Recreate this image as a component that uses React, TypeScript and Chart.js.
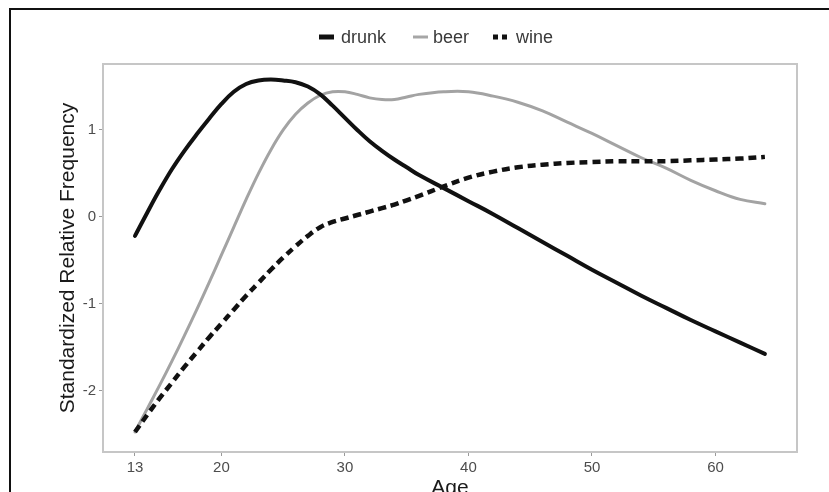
import React, { useEffect, useRef } from "react";
import { Chart, registerables } from "chart.js";

Chart.register(...registerables);

// ---- data ----
const ages = [13, 14, 15, 16, 17, 18, 19, 20, 21, 22, 23, 24, 25, 26, 27, 28, 29, 30, 31, 32, 33, 34, 35, 36, 38, 40, 42, 44, 46, 48, 50, 52, 54, 56, 58, 60, 62, 64];
const drunk = [-0.22, 0.05, 0.31, 0.55, 0.76, 0.95, 1.13, 1.30, 1.44, 1.53, 1.57, 1.58, 1.57, 1.55, 1.50, 1.41, 1.28, 1.14, 1.00, 0.87, 0.76, 0.66, 0.57, 0.48, 0.33, 0.18, 0.03, -0.13, -0.29, -0.45, -0.61, -0.76, -0.91, -1.05, -1.19, -1.32, -1.45, -1.58];
const beer = [-2.48, -2.21, -1.94, -1.66, -1.37, -1.07, -0.76, -0.44, -0.12, 0.20, 0.50, 0.77, 1.00, 1.18, 1.31, 1.40, 1.44, 1.44, 1.41, 1.37, 1.35, 1.35, 1.38, 1.41, 1.44, 1.44, 1.39, 1.32, 1.22, 1.09, 0.96, 0.82, 0.68, 0.56, 0.42, 0.30, 0.20, 0.15];
const wine = [-2.48, -2.28, -2.09, -1.91, -1.73, -1.56, -1.39, -1.23, -1.07, -0.91, -0.76, -0.61, -0.47, -0.34, -0.22, -0.12, -0.06, -0.02, 0.02, 0.06, 0.10, 0.14, 0.19, 0.24, 0.35, 0.45, 0.52, 0.57, 0.60, 0.62, 0.63, 0.64, 0.64, 0.64, 0.65, 0.66, 0.67, 0.69];
const seriesNames = ["drunk", "beer", "wine"];
const xTicks = [13, 20, 30, 40, 50, 60];
const yTicks = [-2, -1, 0, 1];
const xTitle = "Age";
const yTitle = "Standardized Relative Frequency";

const FONT = '"Liberation Sans", Arial, Helvetica, sans-serif';

const decorPlugin = {
  id: "decor",
  afterDraw(chart: any) {
    const ctx = chart.ctx;
    const a = chart.chartArea;
    ctx.save();
    // panel border
    ctx.strokeStyle = "#c6c6c6";
    ctx.lineWidth = 2;
    ctx.strokeRect(a.left, a.top, a.right - a.left, a.bottom - a.top);

    // axis titles
    ctx.fillStyle = "#1a1a1a";
    ctx.font = `21px ${FONT}`;
    ctx.textAlign = "center";
    ctx.textBaseline = "alphabetic";
    ctx.fillText(xTitle, (a.left + a.right) / 2, 494);
    ctx.save();
    ctx.translate(68, (a.top + a.bottom) / 2);
    ctx.rotate(-Math.PI / 2);
    ctx.textBaseline = "middle";
    ctx.fillText(yTitle, 0, 0);
    ctx.restore();

    // legend
    const ly = 37;
    ctx.font = `18px ${FONT}`;
    ctx.textAlign = "left";
    ctx.textBaseline = "middle";
    ctx.fillStyle = "#3a3a3a";
    const items = [
      { x0: 319, x1: 334, tx: 341, color: "#111", w: 5, dash: [] as number[] },
      { x0: 413, x1: 428, tx: 433, color: "#a6a6a6", w: 3, dash: [] as number[] },
      { x0: 493, x1: 511, tx: 516, color: "#111", w: 5, dash: [5, 4] },
    ];
    items.forEach((it, i) => {
      ctx.beginPath();
      ctx.setLineDash(it.dash);
      ctx.lineCap = "butt";
      ctx.strokeStyle = it.color;
      ctx.lineWidth = it.w;
      ctx.moveTo(it.x0, ly);
      ctx.lineTo(it.x1, ly);
      ctx.stroke();
      ctx.setLineDash([]);
      ctx.fillText(seriesNames[i], it.tx, ly + 1);
    });
    ctx.restore();
  },
};

export default function App() {
  const ref = useRef<HTMLCanvasElement | null>(null);

  useEffect(() => {
    if (!ref.current) return;
    const mk = (arr: number[]) => ages.map((x, i) => ({ x, y: arr[i] }));
    const chart = new Chart(ref.current, {
      type: "line",
      data: {
        datasets: [
          {
            label: seriesNames[0],
            data: mk(drunk),
            borderColor: "#111111",
            borderWidth: 4,
            borderCapStyle: "round",
            tension: 0.4,
            pointRadius: 0,
            fill: false,
          },
          {
            label: seriesNames[2],
            data: mk(wine),
            borderColor: "#111111",
            borderWidth: 4.5,
            borderDash: [8, 5],
            borderCapStyle: "butt",
            tension: 0.4,
            pointRadius: 0,
            fill: false,
          },
          {
            label: seriesNames[1],
            data: mk(beer),
            borderColor: "#a3a3a3",
            borderWidth: 3,
            borderCapStyle: "round",
            tension: 0.4,
            pointRadius: 0,
            fill: false,
          },
        ],
      },
      options: {
        responsive: false,
        animation: false,
        devicePixelRatio: 1,
        layout: { padding: { top: 64, right: 32, left: 0, bottom: 0 } },
        plugins: { legend: { display: false }, tooltip: { enabled: false } },
        scales: {
          x: {
            type: "linear",
            min: 10.41,
            max: 66.6,
            afterBuildTicks: (s: any) => {
              s.ticks = xTicks.map((v) => ({ value: v }));
            },
            afterFit: (s: any) => {
              s.height = 40;
            },
            grid: { display: true, drawOnChartArea: false, drawTicks: true, tickLength: 4, color: "#9a9a9a", lineWidth: 1 },
            border: { display: false },
            ticks: {
              font: { family: FONT, size: 15 },
              color: "#4d4d4d",
              padding: 3,
              maxRotation: 0,
              autoSkip: false,
              callback: (v: any) => String(v),
            },
          },
          y: {
            type: "linear",
            min: -2.71,
            max: 1.76,
            afterBuildTicks: (s: any) => {
              s.ticks = yTicks.map((v) => ({ value: v }));
            },
            afterFit: (s: any) => {
              s.width = 103;
            },
            grid: { display: true, drawOnChartArea: false, drawTicks: true, tickLength: 4, color: "#9a9a9a", lineWidth: 1 },
            border: { display: false },
            ticks: {
              font: { family: FONT, size: 15 },
              color: "#4d4d4d",
              padding: 3,
              autoSkip: false,
              callback: (v: any) => String(v),
            },
          },
        },
      },
      plugins: [decorPlugin],
    } as any);
    return () => chart.destroy();
  }, []);

  return (
    <div style={{ position: "fixed", left: 0, top: 0, width: 829, height: 492, overflow: "hidden", background: "#fff" }}>
      <div
        style={{
          position: "absolute",
          left: 9,
          top: 8,
          width: 1000,
          height: 1000,
          border: "2px solid #111",
          boxSizing: "border-box",
        }}
      />
      <canvas
        ref={ref}
        width={829}
        height={492}
        style={{ position: "absolute", left: 0, top: 0, width: 829, height: 492, display: "block" }}
      />
    </div>
  );
}
